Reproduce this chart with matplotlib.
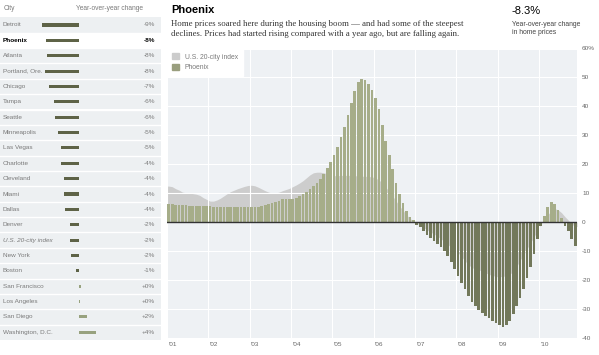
import numpy as np
import matplotlib.pyplot as plt
from matplotlib.patches import Patch

plt.rcParams['font.family'] = ['Liberation Sans', 'DejaVu Sans']

# --- left table: year-over-year change by city ---
cities = ["Detroit", "Phoenix", "Atlanta", "Portland, Ore.", "Chicago", "Tampa",
          "Seattle", "Minneapolis", "Las Vegas", "Charlotte", "Cleveland", "Miami",
          "Dallas", "Denver", "U.S. 20-city index", "New York", "Boston",
          "San Francisco", "Los Angeles", "San Diego", "Washington, D.C."]
city_change = [-9.1, -8.3, -8.0, -8.4, -7.4, -6.2, -5.9, -5.2, -4.6, -4.4, -3.9,
               -3.7, -3.5, -2.3, -2.3, -2.1, -0.8, 0.3, 0.2, 1.8, 4.2]
city_labels = ["-9%", "-8%", "-8%", "-8%", "-7%", "-6%", "-6%", "-5%", "-5%", "-4%",
               "-4%", "-4%", "-4%", "-2%", "-2%", "-2%", "-1%", "+0%", "+0%", "+2%", "+4%"]
highlight = "Phoenix"
index_name = "U.S. 20-city index"

# --- right chart: monthly yoy change, Jan 2001 - Nov 2010 ---
year_labels = ["'01", "'02", "'03", "'04", "'05", "'06", "'07", "'08", "'09", "'10"]
phoenix = [
    6.2, 6.1, 6.0, 5.9, 5.8, 5.7, 5.6, 5.6, 5.5, 5.5, 5.4, 5.4,
    5.4, 5.3, 5.3, 5.3, 5.3, 5.2, 5.2, 5.2, 5.1, 5.1, 5.0, 5.0,
    5.1, 5.2, 5.3, 5.5, 5.8, 6.2, 6.6, 7.0, 7.4, 7.8, 8.0, 8.0,
    8.1, 8.3, 8.9, 9.6, 10.4, 11.3, 12.4, 13.4, 14.8, 16.6, 18.6, 20.8,
    23.2, 26.0, 29.3, 33.0, 37.0, 41.3, 45.2, 48.3, 49.5, 49.0, 47.6, 45.5,
    43.0, 39.0, 33.5, 28.0, 23.0, 18.2, 13.5, 9.6, 6.7, 3.9, 1.6, 0.6,
    -0.9, -1.7, -3.0, -4.4, -5.6, -6.7, -7.6, -8.7, -10.2, -11.9, -13.7, -16.2,
    -18.8, -21.0, -23.2, -25.5, -27.8, -29.0, -30.3, -31.5, -32.5, -33.3, -34.2, -35.0,
    -35.8, -36.3, -35.6, -34.2, -32.0, -29.2, -26.3, -23.3, -19.5, -15.5, -11.0, -6.0,
    -1.4, 2.0, 5.0, 7.0, 6.2, 4.0, 1.2, -1.4, -3.2, -5.8, -8.3]
us_index = [
    12.4, 12.2, 11.5, 11.0, 10.3, 10.1, 10.0, 9.8, 9.6, 9.2, 8.4, 7.8,
    7.2, 7.2, 7.6, 8.2, 9.0, 9.8, 10.5, 11.0, 11.5, 11.9, 12.3, 12.6,
    12.7, 12.5, 12.0, 11.4, 10.8, 10.3, 10.0, 10.0, 10.3, 10.8, 11.2, 11.6,
    12.2, 12.8, 13.5, 14.3, 15.3, 16.3, 17.0, 17.2, 17.2, 17.0, 16.6, 16.2,
    16.0, 16.0, 16.1, 16.1, 16.1, 16.1, 16.0, 15.9, 15.8, 15.8, 15.7, 15.6,
    15.2, 14.5, 13.5, 12.0, 10.5, 9.0, 7.2, 5.5, 4.0, 2.5, 1.2, 0.3,
    -0.4, -1.2, -2.0, -2.8, -3.5, -4.2, -5.0, -5.8, -6.8, -7.8, -8.8, -9.8,
    -10.7, -12.0, -13.5, -14.8, -15.8, -16.3, -16.6, -17.0, -17.6, -18.2, -18.5, -18.9,
    -19.0, -18.8, -18.7, -18.1, -17.1, -15.4, -13.3, -11.3, -9.3, -7.2, -5.2, -3.2,
    -0.7, 0.7, 2.4, 3.9, 4.6, 4.2, 3.2, 1.8, 0.6, -0.8, -1.6]

W, H = 599, 355
neg_col = '#5e6347'
pos_col = '#98a27f'
txt_gray = '#7a7a7a'

fig = plt.figure(figsize=(W / 100, H / 100), dpi=100)

# left table
axl = fig.add_axes([0, (H - 340) / H, 161 / W, (340 - 17.3) / H])
n = len(cities)
rows = np.arange(n)
axl.set_xlim(-79.3 / 4.05, (161 - 79.3) / 4.05)
axl.set_ylim(n - 0.5, -0.5)
axl.axis('off')
for i, c in enumerate(cities):
    axl.axhspan(i - 0.5, i + 0.5, color='white' if c == highlight else '#edf0f2', lw=0)
axl.hlines(rows[:-1] + 0.5, -20, 21, color='white', lw=1)
axl.barh(rows, city_change, height=0.2,
         color=[neg_col if v < 0 else pos_col for v in city_change], lw=0)
for i, c in enumerate(cities):
    bold = c == highlight
    kw = dict(va='center', fontsize=4.6, color='black' if bold else txt_gray,
              weight='bold' if bold else 'normal')
    axl.text(-18.85, i, c, ha='left', style='italic' if c == index_name else 'normal', **kw)
    axl.text(18.7, i, city_labels[i], ha='right', **kw)

fig.text(4 / W, 1 - 9 / H, "City", fontsize=4.8, color=txt_gray, va='center')
fig.text(110 / W, 1 - 9 / H, "Year-over-year change", fontsize=4.8, color=txt_gray,
         va='center', ha='center')

# header of the chart
fig.text(171 / W, 1 - 10 / H, "Phoenix", fontsize=8, weight='bold', va='center')
fig.text(171 / W, 1 - 24.5 / H,
         "Home prices soared here during the housing boom \u2014 and had some of the steepest",
         family='Liberation Serif', fontsize=6.35, color='#333333', va='center')
fig.text(171 / W, 1 - 33.5 / H,
         "declines. Prices had started rising compared with a year ago, but are falling again.",
         family='Liberation Serif', fontsize=6.35, color='#333333', va='center')
fig.text(512 / W, 1 - 11 / H, "-8.3%", fontsize=8, va='center')
fig.text(512 / W, 1 - 24 / H, "Year-over-year change", fontsize=4.9, color='#444444', va='center')
fig.text(512 / W, 1 - 32 / H, "in home prices", fontsize=4.9, color='#444444', va='center')

# main chart
ax = fig.add_axes([167 / W, 16 / H, 410 / W, 290.5 / H])
nm = len(phoenix)
x = np.arange(nm) + 0.5
ax.set_facecolor('#eef1f4')
ax.set_xlim(0, nm)
ax.set_ylim(-40.5, 60)

xs = np.concatenate([[0], x, [nm]])
us_s = np.concatenate([[us_index[0]], us_index, [us_index[-1]]])
ax.fill_between(xs, 0, us_s, color='#cdcdcd', lw=0, zorder=0.3)
ph = np.array(phoenix)
ax.bar(x, ph, width=0.78, color=np.where(ph < 0, '#72785a', '#a6ad89'), lw=0, zorder=2)
ax.axhline(0, color='#333333', lw=1.0, zorder=3)

ax.set_xticks(np.arange(0, nm, 12), minor=True)
ax.set_yticks(np.arange(-40, 61, 10))
ax.set_axisbelow(True)
ax.grid(which='minor', axis='x', color='white', lw=0.8)
ax.grid(which='major', axis='y', color='white', lw=0.8)

ax.set_xticks(np.arange(0, nm, 12) + 0.35)
ax.set_xticklabels(year_labels, ha='left')
ax.yaxis.tick_right()
ax.set_yticklabels([str(v) if v != 60 else "60%" for v in range(-40, 61, 10)])
ax.tick_params(which='both', length=0, labelsize=4.6, labelcolor='#666666')
ax.tick_params(axis='y', pad=3.6)
ax.tick_params(axis='x', pad=2)
for s in ax.spines.values():
    s.set_visible(False)

leg = ax.legend(handles=[Patch(color='#cccccc', label="U.S. 20-city index"),
                         Patch(color='#999e7e', label="Phoenix")],
                loc='upper left', borderaxespad=0, fontsize=4.9, frameon=True,
                fancybox=False, handlelength=1.0, handleheight=1.0, handletextpad=0.9,
                borderpad=0.7, labelspacing=0.45)
leg.get_frame().set_facecolor('white')
leg.get_frame().set_edgecolor('white')
leg.get_frame().set_alpha(1)
for t in leg.get_texts():
    t.set_color(txt_gray)

fig.savefig("out.png", dpi=100)
